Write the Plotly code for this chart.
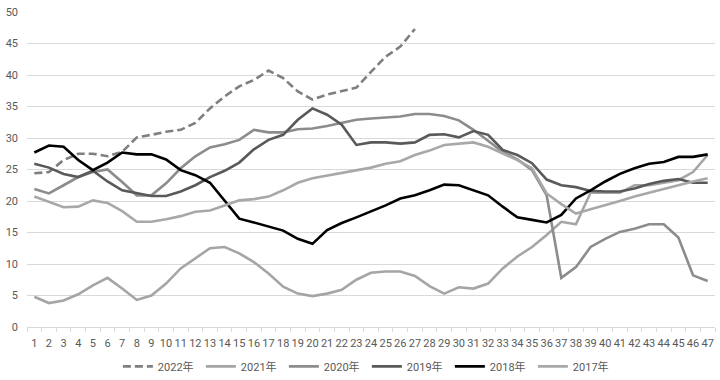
import plotly.graph_objects as go

weeks = list(range(1, 48))

y2022 = [24.4, 24.6, 26.5, 27.5, 27.5, 27.1, 27.8, 30.1, 30.5, 31.0, 31.3, 32.4, 34.7, 36.6,
         38.2, 39.2, 40.7, 39.5, 37.4, 36.1, 36.9, 37.5, 38.0, 40.5, 42.9, 44.5, 47.3]
y2021 = [4.8, 3.8, 4.2, 5.2, 6.6, 7.8, 6.1, 4.3, 5.0, 6.9, 9.3, 10.9, 12.5, 12.7, 11.7, 10.3,
         8.5, 6.4, 5.3, 4.9, 5.3, 5.9, 7.5, 8.6, 8.8, 8.8, 8.1, 6.5, 5.3, 6.3, 6.1, 6.9,
         9.3, 11.2, 12.7, 14.6, 16.7, 16.3, 21.3, 21.3, 21.3, 22.5, 22.5, 22.9, 23.3, 24.6, 27.3]
y2020 = [21.9, 21.2, 22.5, 23.8, 24.6, 25.0, 23.0, 20.9, 20.9, 22.8, 25.2, 27.1, 28.5, 29.0,
         29.7, 31.3, 30.9, 30.9, 31.4, 31.5, 31.9, 32.4, 32.9, 33.1, 33.3, 33.4, 33.8, 33.8,
         33.5, 32.8, 31.3, 29.6, 27.8, 26.6, 24.9, 20.9, 7.8, 9.5, 12.7, 14.0, 15.1, 15.6,
         16.3, 16.3, 14.2, 8.2, 7.3]
y2019 = [25.9, 25.3, 24.3, 23.8, 24.8, 23.1, 21.7, 21.2, 20.8, 20.8, 21.5, 22.5, 23.8, 24.8,
         26.1, 28.2, 29.7, 30.5, 32.9, 34.7, 33.7, 32.1, 28.9, 29.3, 29.3, 29.1, 29.3, 30.5,
         30.6, 30.1, 31.1, 30.5, 28.1, 27.3, 26.0, 23.4, 22.5, 22.2, 21.6, 21.5, 21.5, 22.0,
         22.7, 23.2, 23.5, 22.9, 22.9]
y2018 = [27.7, 28.8, 28.6, 26.5, 24.9, 26.1, 27.7, 27.4, 27.4, 26.6, 24.9, 24.1, 22.9, 20.1,
         17.2, 16.6, 15.9, 15.3, 14.0, 13.2, 15.4, 16.5, 17.4, 18.3, 19.3, 20.4, 20.9, 21.7,
         22.6, 22.5, 21.7, 20.9, 19.1, 17.4, 17.0, 16.6, 17.8, 20.4, 21.7, 23.1, 24.3, 25.2,
         25.9, 26.2, 27.0, 27.0, 27.4]
y2017 = [20.7, 19.9, 19.0, 19.1, 20.1, 19.7, 18.4, 16.7, 16.7, 17.1, 17.6, 18.3, 18.5, 19.3,
         20.1, 20.3, 20.7, 21.7, 22.9, 23.6, 24.0, 24.5, 24.9, 25.3, 25.9, 26.3, 27.3, 28.0,
         28.9, 29.1, 29.3, 28.6, 27.5, 26.5, 25.2, 21.2, 19.5, 18.0, 18.7, 19.3, 20.0, 20.7,
         21.3, 22.0, 22.6, 23.1, 23.6]

series = [
    ("2022年", y2022, "#7f7f7f", "8px,4px"),
    ("2021年", y2021, "#a5a5a5", "solid"),
    ("2020年", y2020, "#8c8c8c", "solid"),
    ("2019年", y2019, "#595959", "solid"),
    ("2018年", y2018, "#000000", "solid"),
    ("2017年", y2017, "#a8a8a8", "solid"),
]

fig = go.Figure()
for name, vals, color, dash in series:
    fig.add_trace(go.Scatter(
        x=weeks[:len(vals)], y=vals, name=name, mode="lines",
        line=dict(color=color, width=2.6, dash=dash),
    ))

font_family = "Roboto, 'Noto Sans CJK SC', sans-serif"
fig.update_layout(
    width=720, height=380,
    margin=dict(l=27, r=5, t=12, b=53, autoexpand=False),
    paper_bgcolor="white", plot_bgcolor="white",
    font=dict(family=font_family, size=11, color="#595959"),
    showlegend=True,
    legend=dict(orientation="h", x=0.494, xanchor="center", y=-0.079, yanchor="top",
                itemwidth=30, entrywidth=38, entrywidthmode="pixels",
                tracegroupgap=0,
                font=dict(size=11, color="#595959")),
    xaxis=dict(
        range=[0.5, 47.5], tickmode="array", tickvals=weeks,
        ticktext=[str(w) for w in weeks], ticks="", showgrid=False,
        showline=True, linecolor="#d9d9d9", linewidth=1, zeroline=False,
        tickfont=dict(size=11), automargin=False, ticklabeloverflow="allow",
        ticklabelstandoff=6,
        minor=dict(tickmode="array", tickvals=[w + 0.5 for w in range(0, 48)],
                   ticks="outside", ticklen=4, tickcolor="#d9d9d9", showgrid=False),
    ),
    yaxis=dict(
        range=[0, 50], tickmode="array", tickvals=list(range(0, 51, 5)),
        showgrid=True, gridcolor="#d9d9d9", gridwidth=1, zeroline=False,
        showline=False, ticks="", tickfont=dict(size=11), automargin=False,
        ticklabeloverflow="allow", ticklabelstandoff=8,
    ),
)

fig.write_html("out.html", config={"displayModeBar": False},
               post_script="document.body.style.margin='0';")
